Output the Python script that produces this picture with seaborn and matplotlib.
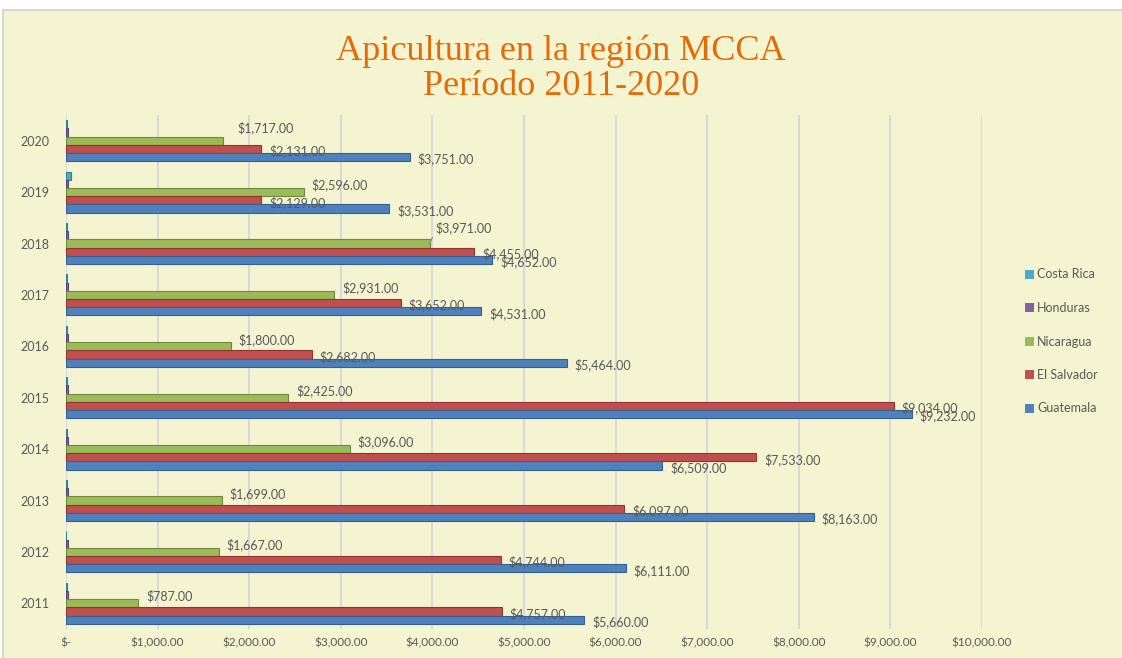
import matplotlib
matplotlib.use("Agg")
import pandas as pd
import matplotlib.pyplot as plt
import seaborn as sns
from matplotlib.patches import Rectangle, Patch
from matplotlib.ticker import FuncFormatter

# ==========================================
# DATA
# ==========================================
years = [2011, 2012, 2013, 2014, 2015, 2016, 2017, 2018, 2019, 2020]
guatemala = [5660, 6111, 8163, 6509, 9232, 5464, 4531, 4652, 3531, 3751]
el_salvador = [4757, 4744, 6097, 7533, 9034, 2682, 3652, 4455, 2129, 2131]
nicaragua = [787, 1667, 1699, 3096, 2425, 1800, 2931, 3971, 2596, 1717]
honduras = [18, 20, 18, 18, 18, 18, 18, 18, 20, 18]
costa_rica = [15, 0, 15, 15, 15, 15, 15, 15, 50, 15]

countries = ["Costa Rica", "Honduras", "Nicaragua", "El Salvador", "Guatemala"]
series = {
    "Costa Rica": costa_rica,
    "Honduras": honduras,
    "Nicaragua": nicaragua,
    "El Salvador": el_salvador,
    "Guatemala": guatemala,
}
labelled = ["Nicaragua", "El Salvador", "Guatemala"]

title_line1 = "Apicultura en la región MCCA"
title_line2 = "Período 2011-2020"

# ==========================================
# STYLE
# ==========================================
BG = "#F5F4D0"
TEXT_GREY = "#595959"
palette = {
    "Costa Rica": "#4BACC6",
    "Honduras": "#8064A2",
    "Nicaragua": "#9BBB59",
    "El Salvador": "#C0504D",
    "Guatemala": "#4F81BD",
}
edge_palette = {
    "Costa Rica": "#2E8399",
    "Honduras": "#5A437A",
    "Nicaragua": "#71893F",
    "El Salvador": "#8E3532",
    "Guatemala": "#36608F",
}
# label offsets in pixels (dx, dy) relative to bar end / bar centre
label_offsets = {"Nicaragua": (8, 7), "El Salvador": (8, -2), "Guatemala": (8, -2)}

rows = []
for name in countries:
    for yr, val in zip(years, series[name]):
        rows.append({"year": str(yr), "country": name, "value": val})
df = pd.DataFrame(rows)
year_order = [str(y) for y in reversed(years)]

sns.set_theme(style="white")
plt.rcParams["font.family"] = ["Lato", "DejaVu Sans"]

W, H = 1122, 658
fig = plt.figure(figsize=(W / 100, H / 100), dpi=100)
fig.patch.set_facecolor("white")
fig.patches.append(Rectangle((3 / W, -0.01), 1.0, 1 - 10 / H + 0.01,
                             transform=fig.transFigure, facecolor=BG,
                             edgecolor="#D0D0D0", lw=1.2, zorder=-10))

ax = fig.add_axes([66 / W, 1 - 629 / H, (982 - 66) / W, (629 - 115) / H])
ax.set_facecolor("none")

sns.barplot(data=df, x="value", y="year", hue="country", order=year_order,
            hue_order=countries, palette=palette, orient="h", width=0.8,
            saturation=1, legend=False, ax=ax)

for name, container in zip(countries, ax.containers):
    for bar in container:
        bar.set_edgecolor(edge_palette[name])
        bar.set_linewidth(0.8)
        bar.set_zorder(3)

# data labels
for name, container in zip(countries, ax.containers):
    if name not in labelled:
        continue
    dx, dy = label_offsets[name]
    for yr, bar in zip(year_order, container):
        val = bar.get_width()
        yc = bar.get_y() + bar.get_height() / 2
        txt = f"${val:,.2f}"
        if name == "Nicaragua" and yr == "2018":
            ax.annotate(txt, xy=(val, yc), xytext=(6 * 0.72, 16 * 0.72),
                        textcoords="offset points", ha="left", va="center",
                        fontsize=9, color=TEXT_GREY, zorder=5,
                        arrowprops=dict(arrowstyle="-", color="#8C8C8C", lw=0.8,
                                        shrinkA=0, shrinkB=0,
                                        relpos=(0.0, 0.3)))
        elif name == "Nicaragua" and yr == "2020":
            ax.annotate(txt, xy=(val, yc), xytext=(14 * 0.72, 13 * 0.72),
                        textcoords="offset points", ha="left", va="center",
                        fontsize=9, color=TEXT_GREY, zorder=5)
        else:
            ax.annotate(txt, xy=(val, yc), xytext=(dx * 0.72, dy * 0.72),
                        textcoords="offset points", ha="left", va="center",
                        fontsize=9, color=TEXT_GREY, zorder=5)

# axes
ax.set_xlim(0, 10000)
ax.set_xticks(range(0, 10001, 1000))
ax.xaxis.set_major_formatter(FuncFormatter(lambda v, p: "$-" if v == 0 else f"${v:,.2f}"))
ax.set_axisbelow(True)
ax.xaxis.grid(True, color="#D6D6DE", lw=1.3)
ax.yaxis.grid(False)
for s in ax.spines.values():
    s.set_visible(False)
ax.tick_params(axis="y", length=0, pad=12, labelsize=9, labelcolor=TEXT_GREY)
ax.tick_params(axis="x", length=0, pad=6, labelsize=8.5, labelcolor=TEXT_GREY)
ax.set_xlabel("")
ax.set_ylabel("")

# legend
handles = [Patch(facecolor=palette[c], edgecolor="none") for c in countries]
ax.legend(handles, countries, loc="center left",
          bbox_to_anchor=(1019 / W, 1 - 341.5 / H), bbox_transform=fig.transFigure,
          frameon=False, fontsize=9, labelcolor=TEXT_GREY, handlelength=0.7,
          handleheight=0.7, handletextpad=0.25, labelspacing=1.72, borderpad=0)

# title
fig.text(0.5, 1 - 60 / H, title_line1, ha="center", va="baseline",
         fontsize=26, color="#E36C0A", family="Liberation Serif")
fig.text(0.5, 1 - 95 / H, title_line2, ha="center", va="baseline",
         fontsize=26, color="#E36C0A", family="Liberation Serif")

fig.savefig("out.png", dpi=100, facecolor=fig.get_facecolor())
